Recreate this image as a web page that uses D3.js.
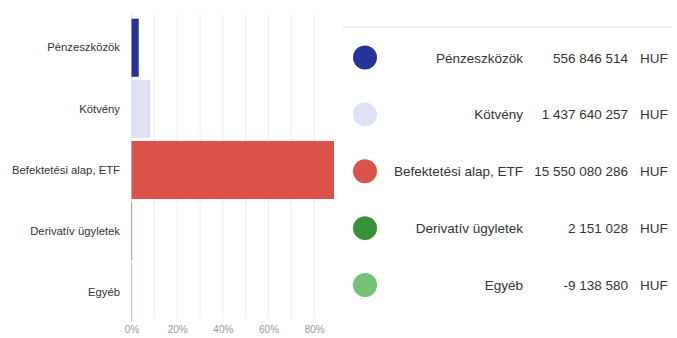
<!DOCTYPE html>
<html>
<head>
<meta charset="utf-8">
<script src="https://cdn.jsdelivr.net/npm/d3@7"></script>
<style>
  html, body { margin: 0; padding: 0; background: #fff; }
  svg { display: block; font-family: "Liberation Sans", Arial, sans-serif; }
</style>
</head>
<body>
<svg id="chart" width="677" height="338"></svg>
<script>
// Asset classes and their holdings in HUF
const categories = ["Pénzeszközök", "Kötvény", "Befektetési alap, ETF", "Derivatív ügyletek", "Egyéb"];
const amounts = [556846514, 1437640257, 15550080286, 2151028, -9138580];
const colors = ["#25339b", "#dde1f3", "#d9534a", "#3a8f3a", "#74c274"];
const gridTicks = [0, 0.1, 0.2, 0.3, 0.4, 0.5, 0.6, 0.7, 0.8];
const tickLabels = [0, 0.2, 0.4, 0.6, 0.8];
const currency = "HUF";

const total = d3.sum(amounts);
const shares = amounts.map(v => v / total);
const rows = categories.map((c, i) => ({ name: c, amount: amounts[i], share: shares[i], color: colors[i] }));

const svg = d3.select("#chart");

// ---- Horizontal bar chart (share of total) ----
const x = d3.scaleLinear()
  .domain([0, d3.max(shares)])
  .range([131.5, 334]);

const y = d3.scaleBand()
  .domain(categories)
  .range([17.5, 322.5])
  .paddingInner(0.05)
  .paddingOuter(0.02);

// vertical gridlines
svg.append("g")
  .selectAll("line")
  .data(gridTicks)
  .join("line")
  .attr("x1", d => x(d)).attr("x2", d => x(d))
  .attr("y1", 14).attr("y2", 318)
  .attr("stroke", d => d === 0 ? "#e3e7e6" : "#eeeeee")
  .attr("stroke-width", 1);

// bars
svg.append("g")
  .selectAll("rect")
  .data(rows)
  .join("rect")
  .attr("x", d => x(Math.min(0, d.share)))
  .attr("y", d => y(d.name))
  .attr("width", d => Math.max(0.6, Math.abs(x(d.share) - x(0))))
  .attr("height", y.bandwidth())
  .attr("fill", d => d.color);

// category axis labels
const yAxis = d3.axisLeft(y).tickSize(0).tickPadding(0);
const yg = svg.append("g")
  .attr("transform", "translate(120,0)")
  .call(yAxis);
yg.select(".domain").remove();
yg.selectAll("text")
  .attr("fill", "#333")
  .style("font-size", "11.3px")
  .style("font-family", "'Liberation Sans', Arial, sans-serif");

// percentage axis labels
const xAxis = d3.axisBottom(x)
  .tickValues(tickLabels)
  .tickFormat(d3.format(".0%"))
  .tickSize(0)
  .tickPadding(0);
const xg = svg.append("g")
  .attr("transform", "translate(0,325.5)")
  .call(xAxis);
xg.select(".domain").remove();
xg.selectAll("text")
  .attr("fill", "#999")
  .style("font-size", "10px")
  .style("font-family", "'Liberation Sans', Arial, sans-serif");

// ---- Legend table with amounts ----
const huf = d3.formatLocale({ decimal: ",", thousands: " ", grouping: [3], currency: ["", ""], minus: "-" }).format(",d");

svg.append("line")
  .attr("x1", 343).attr("x2", 672)
  .attr("y1", 27).attr("y2", 27)
  .attr("stroke", "#e8eaf1")
  .attr("stroke-width", 1.5);

const ly = d3.scalePoint()
  .domain(categories)
  .range([57.5, 285]);

const legend = svg.append("g")
  .selectAll("g")
  .data(rows)
  .join("g")
  .attr("transform", d => `translate(0,${ly(d.name)})`);

legend.append("circle")
  .attr("cx", 365)
  .attr("cy", 0)
  .attr("r", 12)
  .attr("fill", d => d.color);

legend.append("text")
  .attr("x", 523)
  .attr("y", 5)
  .attr("text-anchor", "end")
  .attr("fill", "#333")
  .style("font-size", "13.5px")
  .text(d => d.name);

legend.append("text")
  .attr("x", 628)
  .attr("y", 5)
  .attr("text-anchor", "end")
  .attr("fill", "#333")
  .style("font-size", "13.5px")
  .text(d => huf(d.amount));

legend.append("text")
  .attr("x", 640)
  .attr("y", 5)
  .attr("fill", "#333")
  .style("font-size", "13.5px")
  .text(currency);
</script>
</body>
</html>
